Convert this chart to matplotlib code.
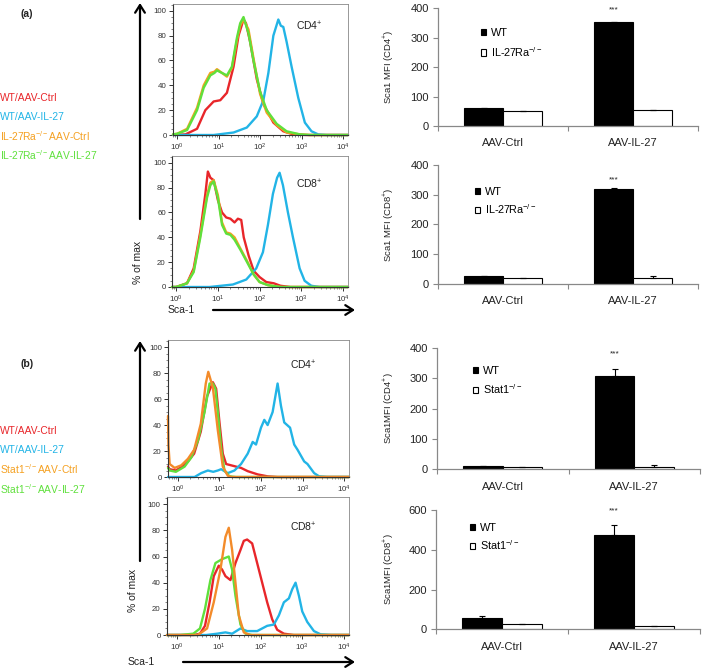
import matplotlib
matplotlib.use('Agg')
import matplotlib.pyplot as plt
import numpy as np
from matplotlib.ticker import AutoMinorLocator, FixedLocator, LogLocator, NullFormatter

plt.rcParams['font.family'] = ['Liberation Sans', 'DejaVu Sans']
plt.rcParams['mathtext.fontset'] = 'custom'
plt.rcParams['mathtext.rm'] = 'Liberation Sans'
plt.rcParams['mathtext.it'] = 'Liberation Sans:italic'
plt.rcParams['mathtext.bf'] = 'Liberation Sans:bold'

# ---------------- data ----------------
# histogram curves: x = log10(Sca-1), y = % of max
a_cd4_red_x = [-0.1, 0.2, 0.48, 0.68, 0.88, 1.04, 1.2, 1.36, 1.48, 1.6, 1.66, 1.76, 1.92, 2.08, 2.32, 2.56, 2.8, 3.1, 4.12]
a_cd4_red_y = [0, 0.5, 5, 20, 27, 28, 34, 55, 80, 93, 90, 75, 45, 25, 10, 3, 0.5, 0, 0]
a_cd4_org_x = [-0.1, 0.0, 0.24, 0.48, 0.64, 0.8, 0.9, 0.96, 1.08, 1.2, 1.32, 1.44, 1.52, 1.6, 1.72, 1.84, 2.0, 2.16, 2.4, 2.64, 2.96, 3.2, 4.12]
a_cd4_org_y = [0.5, 1, 5, 22, 40, 50, 51, 53, 50, 47, 54, 76, 88, 93, 85, 62, 33, 18, 8, 2, 0.5, 0, 0]
a_cd4_grn_x = [-0.1, 0.0, 0.24, 0.48, 0.64, 0.8, 0.9, 0.96, 1.08, 1.2, 1.32, 1.44, 1.52, 1.6, 1.72, 1.84, 2.0, 2.16, 2.4, 2.64, 2.96, 3.2, 4.12]
a_cd4_grn_y = [0.5, 1, 4, 20, 38, 48, 50, 52, 50, 48, 55, 78, 90, 95, 82, 60, 35, 20, 9, 3, 0.5, 0, 0]
a_cd4_blu_x = [-0.1, 0.88, 1.36, 1.68, 1.92, 2.08, 2.2, 2.32, 2.44, 2.5, 2.56, 2.64, 2.76, 2.92, 3.08, 3.24, 3.4, 3.6, 4.12]
a_cd4_blu_y = [0, 0, 2, 6, 15, 28, 50, 80, 93, 88, 87, 75, 55, 30, 10, 3, 0.5, 0, 0]

a_cd8_red_x = [-0.1, 0.0, 0.26, 0.42, 0.58, 0.7, 0.76, 0.82, 0.9, 1.0, 1.1, 1.2, 1.3, 1.4, 1.48, 1.56, 1.62, 1.74, 1.86, 2.0, 2.16, 2.34, 2.5, 2.74, 4.12]
a_cd8_red_y = [0, 0, 3, 15, 45, 75, 93, 88, 86, 70, 60, 56, 55, 52, 55, 54, 40, 25, 13, 8, 4, 3, 1, 0, 0]
a_cd8_org_x = [-0.1, 0.0, 0.26, 0.42, 0.58, 0.74, 0.82, 0.9, 1.0, 1.1, 1.2, 1.3, 1.4, 1.54, 1.7, 1.86, 2.0, 2.2, 2.5, 4.12]
a_cd8_org_y = [0, 0, 3, 13, 42, 74, 84, 86, 74, 52, 44, 43, 40, 31, 21, 10, 4, 1.5, 0, 0]
a_cd8_grn_x = [-0.1, 0.0, 0.26, 0.42, 0.58, 0.74, 0.82, 0.9, 1.0, 1.1, 1.2, 1.3, 1.4, 1.54, 1.7, 1.86, 2.0, 2.2, 2.5, 4.12]
a_cd8_grn_y = [0, 0, 3, 12, 40, 72, 82, 85, 72, 50, 43, 42, 38, 30, 20, 10, 4, 1.5, 0, 0]
a_cd8_blu_x = [-0.1, 0.8, 1.36, 1.68, 1.92, 2.08, 2.2, 2.32, 2.42, 2.48, 2.56, 2.68, 2.8, 2.96, 3.08, 3.24, 3.44, 4.12]
a_cd8_blu_y = [0, 0, 2, 6, 15, 28, 50, 75, 88, 92, 82, 60, 40, 15, 5, 1, 0, 0]

b_cd4_red_x = [-0.24, -0.2, -0.05, 0.1, 0.24, 0.39, 0.55, 0.7, 0.84, 0.92, 1.0, 1.08, 1.16, 1.28, 1.4, 1.52, 1.68, 1.92, 2.16, 2.4, 4.12]
b_cd4_red_y = [8, 6, 5, 8, 12, 18, 35, 62, 73, 68, 42, 18, 10, 9, 8, 7, 4.5, 2, 0.5, 0, 0]
b_cd4_org_x = [-0.24, -0.23, -0.2, -0.08, 0.08, 0.24, 0.39, 0.55, 0.67, 0.73, 0.84, 0.96, 1.08, 1.2, 1.3, 4.12]
b_cd4_org_y = [47, 25, 10, 7, 9, 14, 21, 41, 72, 81, 69, 36, 8, 1, 0, 0]
b_cd4_grn_x = [-0.24, -0.2, -0.05, 0.16, 0.32, 0.48, 0.64, 0.76, 0.84, 0.9, 0.96, 1.04, 1.12, 1.24, 1.4, 4.12]
b_cd4_grn_y = [7, 5, 4, 8, 15, 28, 50, 72, 72, 68, 50, 22, 5, 0.5, 0, 0]
b_cd4_blu_x = [-0.24, 0.4, 0.56, 0.72, 0.85, 0.96, 1.04, 1.2, 1.36, 1.52, 1.68, 1.8, 1.88, 2.0, 2.08, 2.16, 2.28, 2.4, 2.48, 2.56, 2.7, 2.8, 2.88, 3.04, 3.12, 3.28, 3.4, 3.6, 4.12]
b_cd4_blu_y = [0, 0, 3, 5, 4, 5, 6, 3, 5, 10, 18, 27, 25, 38, 44, 40, 50, 72, 55, 42, 38, 25, 21, 12, 10, 3, 0.5, 0, 0]

b_cd8_red_x = [-0.24, 0.4, 0.55, 0.67, 0.78, 0.88, 1.0, 1.08, 1.16, 1.28, 1.4, 1.52, 1.6, 1.68, 1.8, 1.92, 2.04, 2.16, 2.28, 2.4, 2.56, 2.8, 4.12]
b_cd8_red_y = [0, 0, 1, 7, 25, 45, 53, 50, 45, 42, 55, 65, 72, 73, 70, 55, 40, 25, 12, 4, 1, 0, 0]
b_cd8_org_x = [-0.24, 0.5, 0.72, 0.88, 1.04, 1.16, 1.24, 1.32, 1.4, 1.48, 1.6, 1.75, 4.12]
b_cd8_org_y = [0, 0, 5, 25, 50, 75, 82, 65, 40, 15, 2, 0, 0]
b_cd8_grn_x = [-0.24, 0.07, 0.39, 0.55, 0.67, 0.8, 0.92, 1.08, 1.24, 1.32, 1.4, 1.52, 1.64, 1.8, 4.12]
b_cd8_grn_y = [0, 0, 1, 5, 20, 42, 55, 58, 60, 50, 30, 8, 1, 0, 0]
b_cd8_blu_x = [-0.24, 0.7, 0.96, 1.16, 1.32, 1.52, 1.68, 1.92, 2.16, 2.32, 2.44, 2.56, 2.68, 2.76, 2.84, 2.92, 3.0, 3.12, 3.28, 3.44, 3.7, 4.12]
b_cd8_blu_y = [0, 0, 1, 2, 1, 5, 3, 3, 7, 8, 15, 25, 28, 35, 40, 30, 18, 10, 3, 0.5, 0, 0]

# bar charts
categories = ['AAV-Ctrl', 'AAV-IL-27']
a_cd4_wt = [61, 352]
a_cd4_wt_err = [0, 0]
a_cd4_ko = [50, 55]
a_cd4_ko_err = [0, 0]
a_cd8_wt = [27, 318]
a_cd8_wt_err = [0, 6]
a_cd8_ko = [19, 20]
a_cd8_ko_err = [0, 7]
b_cd4_wt = [11, 309]
b_cd4_wt_err = [0, 21]
b_cd4_ko = [6, 7]
b_cd4_ko_err = [0, 6]
b_cd8_wt = [55, 474]
b_cd8_wt_err = [10, 52]
b_cd8_ko = [27, 18]
b_cd8_ko_err = [0, 0]

a_groups = ['WT/AAV-Ctrl', 'WT/AAV-IL-27', 'IL-27Ra$^{-/-}$AAV-Ctrl', 'IL-27Ra$^{-/-}$AAV-IL-27']
b_groups = ['WT/AAV-Ctrl', 'WT/AAV-IL-27', 'Stat1$^{-/-}$AAV-Ctrl', 'Stat1$^{-/-}$AAV-IL-27']

# ---------------- style ----------------
RED = '#e8262a'
BLUE = '#22b4e6'
ORANGE = '#f5a020'
ORANGE_B = '#f38b2a'
GREEN = '#5fe03c'
TXT = '#222222'

W, H = 709, 670
fig = plt.figure(figsize=(W / 100, H / 100), dpi=100)
fig.patch.set_facecolor('white')


def px_axes(left, top, right, bottom):
    return fig.add_axes([left / W, 1 - bottom / H, (right - left) / W, (bottom - top) / H])


def hist_panel(rect, xlo, curves, label, label_px):
    ax = px_axes(*rect)
    ax.set_xscale('log')
    for xs, ys, c in curves:
        ax.plot(10 ** np.asarray(xs), ys, color=c, lw=1.7, clip_on=False,
                solid_joinstyle='round', solid_capstyle='round')
    ax.set_xlim(10 ** xlo, 10 ** 4.12)
    ax.set_ylim(0, 105.5)
    ax.set_yticks([0, 20, 40, 60, 80, 100])
    ax.yaxis.set_minor_locator(AutoMinorLocator(4))
    ax.xaxis.set_major_locator(FixedLocator([1, 10, 100, 1000, 10000]))
    ax.xaxis.set_minor_locator(LogLocator(base=10, subs=np.arange(2, 10)))
    ax.xaxis.set_minor_formatter(NullFormatter())
    ax.tick_params(which='major', labelsize=5.7, length=3, width=0.7, pad=1.5,
                   colors='#333333', direction='out')
    ax.tick_params(which='minor', length=1.6, width=0.5, colors='#555555', direction='out')
    for s in ['left', 'bottom']:
        ax.spines[s].set_color('#333333')
        ax.spines[s].set_linewidth(0.8)
    for s in ['top', 'right']:
        ax.spines[s].set_color('#888888')
        ax.spines[s].set_linewidth(0.6)
    ax.text((label_px[0] - rect[0]) / (rect[2] - rect[0]),
            (rect[3] - label_px[1]) / (rect[3] - rect[1]),
            label, transform=ax.transAxes, fontsize=7.5, color=TXT,
            ha='left', va='center')
    return ax


def bar_panel(rect, wt, wt_err, ko, ko_err, ymax, ystep, ylabel, ko_label,
              star_y, leg_px, leg_space):
    ax = px_axes(*rect)
    x = np.arange(len(categories))
    w = 0.3
    ekw = dict(lw=0.8, capthick=0.8, ecolor='black')
    b1 = ax.bar(x - w / 2, wt, w, color='black', edgecolor='black', lw=0.8,
                yerr=[np.zeros(len(wt)), wt_err], capsize=2, error_kw=ekw, label='WT')
    b2 = ax.bar(x + w / 2, ko, w, color='white', edgecolor='black', lw=0.8,
                yerr=[np.zeros(len(ko)), ko_err], capsize=2, error_kw=ekw, label=ko_label)
    ax.set_xlim(-0.5, len(categories) - 0.5)
    ax.set_ylim(0, ymax)
    ax.set_yticks(np.arange(0, ymax + 1, ystep))
    ax.set_xticks(x)
    ax.set_xticklabels(categories)
    ax.set_xticks(np.arange(-0.5, len(categories), 1.0), minor=True)
    ax.tick_params(axis='x', which='major', length=0, pad=9, labelsize=8, colors=TXT)
    ax.tick_params(axis='x', which='minor', length=3.5, width=0.8, color='#888888')
    ax.tick_params(axis='y', which='major', length=3.5, width=0.8, color='#888888',
                   labelsize=8, labelcolor=TXT, pad=3)
    for s in ['top', 'right']:
        ax.spines[s].set_visible(False)
    for s in ['left', 'bottom']:
        ax.spines[s].set_color('#888888')
        ax.spines[s].set_linewidth(0.9)
    ax.set_ylabel(ylabel, fontsize=6.8, color=TXT)
    ax.yaxis.set_label_coords((396 - rect[0]) / (rect[2] - rect[0]), 0.5)
    ax.text(x[1] - w / 2, star_y, '***', ha='center', va='center', fontsize=6, color=TXT)
    lx = (leg_px[0] - rect[0]) / (rect[2] - rect[0])
    ly = (rect[3] - leg_px[1]) / (rect[3] - rect[1])
    ax.legend(handles=[b1, b2], loc='upper left', bbox_to_anchor=(lx, ly),
              frameon=False, fontsize=7.8, handlelength=0.55, handleheight=0.55,
              handletextpad=0.45, labelspacing=leg_space, borderpad=0, borderaxespad=0)
    return ax


# ---------------- histograms ----------------
hist_panel((173, 4, 348, 135), -0.1,
           [(a_cd4_red_x, a_cd4_red_y, RED), (a_cd4_blu_x, a_cd4_blu_y, BLUE),
            (a_cd4_org_x, a_cd4_org_y, ORANGE), (a_cd4_grn_x, a_cd4_grn_y, GREEN)],
           'CD4$^{+}$', (296, 26))
hist_panel((172, 156, 348, 287), -0.1,
           [(a_cd8_red_x, a_cd8_red_y, RED), (a_cd8_blu_x, a_cd8_blu_y, BLUE),
            (a_cd8_org_x, a_cd8_org_y, ORANGE), (a_cd8_grn_x, a_cd8_grn_y, GREEN)],
           'CD8$^{+}$', (296, 184))
hist_panel((168, 340, 349, 477), -0.24,
           [(b_cd4_red_x, b_cd4_red_y, RED), (b_cd4_blu_x, b_cd4_blu_y, BLUE),
            (b_cd4_grn_x, b_cd4_grn_y, GREEN), (b_cd4_org_x, b_cd4_org_y, ORANGE_B)],
           'CD4$^{+}$', (290, 365))
hist_panel((167, 497, 349, 635), -0.24,
           [(b_cd8_red_x, b_cd8_red_y, RED), (b_cd8_blu_x, b_cd8_blu_y, BLUE),
            (b_cd8_grn_x, b_cd8_grn_y, GREEN), (b_cd8_org_x, b_cd8_org_y, ORANGE_B)],
           'CD8$^{+}$', (290, 527))

# ---------------- bar charts ----------------
bar_panel((438, 8.3, 698, 126), a_cd4_wt, a_cd4_wt_err, a_cd4_ko, a_cd4_ko_err,
          400, 100, 'Sca1 MFI (CD4$^{+}$)', 'IL-27Ra$^{-/-}$', 395, (480.5, 28), 0.62)
bar_panel((438, 165, 698, 284), a_cd8_wt, a_cd8_wt_err, a_cd8_ko, a_cd8_ko_err,
          400, 100, 'Sca1 MFI (CD8$^{+}$)', 'IL-27Ra$^{-/-}$', 350, (474.5, 187), 0.45)
bar_panel((437, 348.3, 700, 469), b_cd4_wt, b_cd4_wt_err, b_cd4_ko, b_cd4_ko_err,
          400, 100, 'Sca1MFI (CD4$^{+}$)', 'Stat1$^{-/-}$', 380, (472.5, 366), 0.55)
bar_panel((436, 510, 700, 629.3), b_cd8_wt, b_cd8_wt_err, b_cd8_ko, b_cd8_ko_err,
          600, 200, 'Sca1MFI (CD8$^{+}$)', 'Stat1$^{-/-}$', 594, (469.5, 523), 0.45)

# ---------------- overlay: labels, arrows ----------------
ov = fig.add_axes([0, 0, 1, 1], zorder=-1)
ov.set_xlim(0, W)
ov.set_ylim(H, 0)
ov.axis('off')

ov.text(27, 14, '(a)', fontsize=7.5, fontweight='bold', ha='center', va='center', color=TXT)
ov.text(27, 364, '(b)', fontsize=7.5, fontweight='bold', ha='center', va='center', color=TXT)

colors = [RED, BLUE, ORANGE, GREEN]
for i, (lab, c) in enumerate(zip(a_groups, colors)):
    ov.text(0, 98 + 19 * i, lab, color=c, fontsize=7.4, ha='left', va='center')
for i, (lab, c) in enumerate(zip(b_groups, colors)):
    ov.text(0, 431 + 19.2 * i, lab, color=c, fontsize=7.4, ha='left', va='center')

arrow = dict(arrowstyle='->,head_length=0.55,head_width=0.35', lw=1.6, color='black',
             shrinkA=0, shrinkB=0)
ov.annotate('', xy=(140, 3), xytext=(140, 219), arrowprops=arrow)
ov.annotate('', xy=(140, 341), xytext=(140, 561), arrowprops=arrow)
ov.annotate('', xy=(355, 310), xytext=(213, 310), arrowprops=arrow)
ov.annotate('', xy=(355, 662), xytext=(183, 662), arrowprops=arrow)

ov.text(138, 262, '% of max', rotation=90, fontsize=7.5, ha='center', va='center', color=TXT)
ov.text(133, 590, '% of max', rotation=90, fontsize=7.5, ha='center', va='center', color=TXT)
ov.text(168, 310, 'Sca-1', fontsize=7.5, ha='left', va='center', color=TXT)
ov.text(128, 662, 'Sca-1', fontsize=7.5, ha='left', va='center', color=TXT)

fig.savefig('out.png', dpi=100, facecolor='white')
